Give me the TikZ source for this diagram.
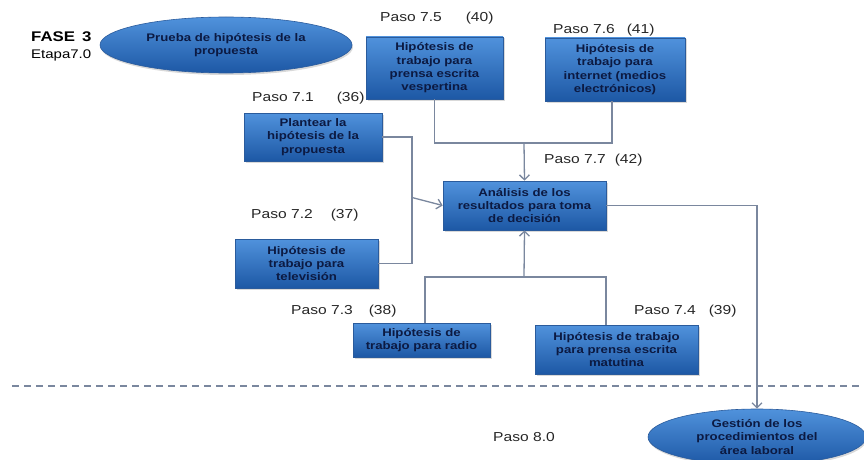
\documentclass[tikz,border=0pt]{standalone}
\usepackage{fontspec}
\setmainfont{Liberation Sans}[FakeStretch=1.2]
\usetikzlibrary{shapes.geometric,arrows.meta,shadows}
\definecolor{bxtop}{HTML}{5092DC}
\definecolor{bxbot}{HTML}{1D58A5}
\definecolor{bxedge}{HTML}{2A5B9C}
\definecolor{txt}{HTML}{0C1A42}
\definecolor{ln}{HTML}{7A879E}
\tikzset{
  stepbox/.style={rectangle, draw=bxedge, line width=0.6pt, top color=bxtop, bottom color=bxbot,
    text=txt, font=\bfseries\fontsize{11}{13.3}\selectfont, align=center, inner sep=0pt,
    drop shadow={opacity=0.3, shadow xshift=1.5pt, shadow yshift=-1.5pt}},
  stepoval/.style={ellipse, draw=bxedge, line width=0.6pt, top color=bxtop, bottom color=bxbot,
    text=txt, font=\bfseries\fontsize{11}{13.3}\selectfont, align=center, inner sep=0pt,
    drop shadow={opacity=0.3, shadow xshift=1pt, shadow yshift=-2pt}},
  lbl/.style={font=\fontsize{13}{15}\selectfont, text=black!85, inner sep=0pt, anchor=west},
  conn/.style={draw=ln, line width=1.3pt},
  arr/.style={conn, -{Straight Barb[length=5pt,width=10pt]}}
}
\begin{document}
\begin{tikzpicture}[x=1pt,y=-1pt]
\useasboundingbox (0,0) rectangle (864,460);
% titles
\node[font=\bfseries\fontsize{14}{16}\selectfont, anchor=west, inner sep=0] (fase) at (31,37) {FASE\, 3};
\node[font=\fontsize{12.5}{15}\selectfont, anchor=west, inner sep=0] (etapa) at (31,55) {Etapa7.0};
\node[stepoval, minimum width=252pt, minimum height=56pt] (e70) at (226,45) {Prueba de hipótesis de la\\propuesta};
% boxes
\node[stepbox, minimum width=137pt, minimum height=62pt] (b75) at (434.5,68) {Hipótesis de\\trabajo para\\prensa escrita\\vespertina};
\node[stepbox, minimum width=140pt, minimum height=63pt] (b76) at (615,69.5) {Hipótesis de\\trabajo para\\internet (medios\\electrónicos)};
\node[stepbox, minimum width=138pt, minimum height=48pt] (b71) at (313,137) {Plantear la\\hipótesis de la\\propuesta};
\node[stepbox, minimum width=163pt, minimum height=49pt] (b77) at (524.5,205.5) {Análisis de los\\resultados para toma\\de decisión};
\node[stepbox, minimum width=143pt, minimum height=49pt] (b72) at (306.5,263.5) {Hipótesis de\\trabajo para\\televisión};
\node[stepbox, minimum width=137pt, minimum height=34pt] (b73) at (421.5,340) {Hipótesis de\\trabajo para radio};
\node[stepbox, minimum width=163pt, minimum height=49pt] (b74) at (616.5,349.5) {Hipótesis de trabajo\\para prensa escrita\\matutina};
\node[stepoval, minimum width=218pt, minimum height=56pt] (e80) at (757,437) {Gestión de los\\procedimientos del\\área laboral};
% labels
\node[lbl] (l75) at (380,18) {Paso 7.5\hspace{24pt}(40)};
\node[lbl] (l76) at (553,30) {Paso 7.6\hspace{12pt}(41)};
\node[lbl] (l71) at (252,98) {Paso 7.1\hspace{23pt}(36)};
\node[lbl] (l77) at (544,160) {Paso 7.7\hspace{9pt}(42)};
\node[lbl] (l72) at (251,215) {Paso 7.2\hspace{18pt}(37)};
\node[lbl] (l73) at (291,311) {Paso 7.3\hspace{16pt}(38)};
\node[lbl] (l74) at (634,311) {Paso 7.4\hspace{13pt}(39)};
\node[lbl] (l80) at (493,437) {Paso 8.0};
% junctions
\coordinate (jtop) at (524,143);
\coordinate (jleft) at (412,197.5);
\coordinate (jbot) at (524,277);
% connectors
\draw[conn] (b75.south) |- (jtop) -| ([xshift=-3pt]b76.south);
\draw[arr] (jtop) -- (b77.north);
\draw[conn] (b71.east) -| (jleft) |- (b72.east);
\draw[arr] (jleft) -- (b77.west);
\draw[conn] ([xshift=3.5pt]b73.north) |- (jbot) -| ([xshift=-10.5pt]b74.north);
\draw[arr] (jbot) -- (b77.south);
\draw[arr] (b77.east) -| (e80.north);
% phase separator
\draw[ln, line width=1.8pt, dash pattern=on 7pt off 5pt] (12,386) -- (864,386);
\end{tikzpicture}
\end{document}
